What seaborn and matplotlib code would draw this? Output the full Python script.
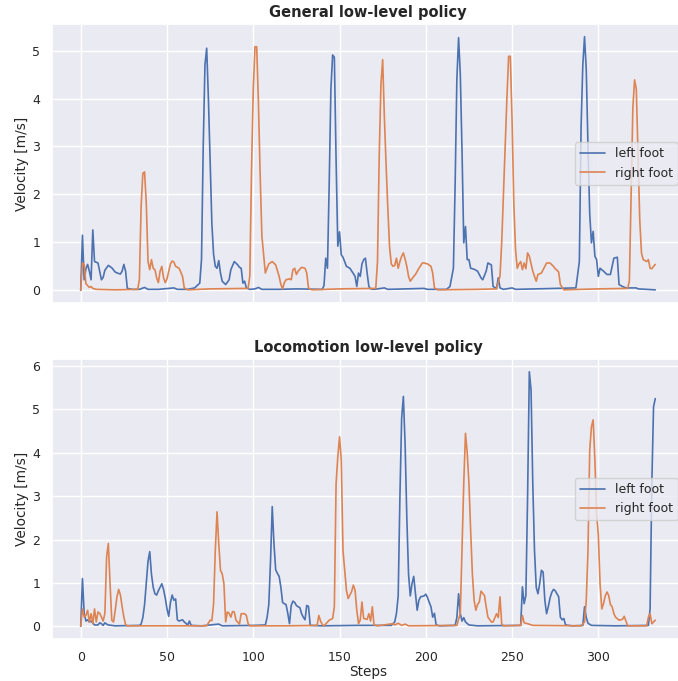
import matplotlib
matplotlib.use("Agg")
import matplotlib.pyplot as plt
import seaborn as sns
import pandas as pd

# ---------------- data (step, velocity) ----------------
general_left = [
    (0, 0.0), (1, 1.15), (2, 0.22), (3, 0.45), (4, 0.54), (5, 0.40), (6, 0.22), (7, 1.26),
    (8, 0.60), (10, 0.57), (12, 0.22), (13, 0.27), (14, 0.42), (16, 0.52), (18, 0.47),
    (20, 0.38), (22, 0.35), (23, 0.34), (24, 0.40), (25, 0.54), (26, 0.40), (27, 0.04),
    (30, 0.02), (34, 0.02), (37, 0.06), (39, 0.02), (45, 0.02), (54, 0.05), (56, 0.02),
    (62, 0.02), (66, 0.05), (69, 0.15), (70, 0.64), (71, 3.0), (72, 4.7), (73, 5.05),
    (74, 4.0), (75, 2.72), (76, 1.4), (77, 0.75), (78, 0.50), (79, 0.46), (80, 0.62),
    (81, 0.36), (82, 0.19), (84, 0.12), (86, 0.22), (87, 0.43), (89, 0.60), (91, 0.53),
    (92, 0.48), (93, 0.46), (94, 0.15), (95, 0.19), (96, 0.05), (98, 0.02), (101, 0.03),
    (103, 0.06), (105, 0.02), (115, 0.02), (125, 0.03), (140, 0.02), (141, 0.10),
    (142, 0.67), (143, 0.46), (144, 2.2), (145, 4.2), (146, 4.91), (147, 4.86), (148, 2.72),
    (149, 0.92), (150, 1.22), (151, 0.74), (152, 0.69), (154, 0.50), (156, 0.46),
    (158, 0.35), (159, 0.29), (160, 0.08), (161, 0.36), (162, 0.29), (163, 0.55),
    (164, 0.64), (165, 0.67), (166, 0.36), (167, 0.08), (168, 0.03), (170, 0.02),
    (176, 0.05), (178, 0.02), (199, 0.04), (201, 0.02), (212, 0.02), (214, 0.08),
    (216, 0.46), (217, 2.2), (218, 4.4), (219, 5.27), (220, 4.5), (221, 2.9), (222, 0.99),
    (223, 1.33), (224, 0.64), (225, 0.64), (226, 0.46), (228, 0.44), (230, 0.40),
    (232, 0.26), (233, 0.22), (235, 0.40), (236, 0.57), (238, 0.53), (239, 0.08),
    (241, 0.04), (242, 0.26), (243, 0.05), (245, 0.02), (250, 0.05), (252, 0.02),
    (287, 0.05), (289, 0.60), (290, 3.4), (291, 4.7), (292, 5.29), (293, 4.6), (294, 3.0),
    (295, 1.6), (296, 0.99), (297, 1.23), (298, 0.71), (299, 0.64), (300, 0.29),
    (301, 0.46), (303, 0.40), (305, 0.33), (307, 0.33), (309, 0.67), (311, 0.69),
    (312, 0.12), (314, 0.08), (316, 0.05), (322, 0.05), (323, 0.03), (333, 0.01),
]
general_right = [
    (0, 0.0), (1, 0.57), (2, 0.54), (3, 0.14), (4, 0.10), (5, 0.06), (6, 0.08), (7, 0.04),
    (9, 0.02), (20, 0.01), (33, 0.02), (34, 0.22), (35, 1.75), (36, 2.44), (37, 2.47),
    (38, 1.81), (39, 0.60), (40, 0.43), (41, 0.64), (42, 0.46), (43, 0.43), (44, 0.26),
    (45, 0.16), (46, 0.40), (47, 0.50), (48, 0.26), (49, 0.16), (50, 0.24), (51, 0.40),
    (52, 0.55), (53, 0.61), (54, 0.59), (55, 0.50), (57, 0.46), (58, 0.38), (59, 0.29),
    (60, 0.05), (62, 0.01), (75, 0.03), (97, 0.04), (98, 0.30), (99, 2.5), (100, 4.2),
    (101, 5.08), (102, 5.08), (103, 3.9), (104, 2.4), (105, 1.13), (106, 0.75), (107, 0.36),
    (108, 0.46), (109, 0.55), (111, 0.60), (113, 0.53), (115, 0.29), (116, 0.12),
    (117, 0.03), (118, 0.16), (119, 0.22), (121, 0.24), (122, 0.22), (123, 0.43),
    (124, 0.46), (125, 0.33), (126, 0.40), (128, 0.48), (130, 0.46), (131, 0.36),
    (132, 0.05), (134, 0.01), (150, 0.03), (171, 0.04), (172, 0.60), (173, 2.8), (174, 4.3),
    (175, 4.81), (176, 3.6), (177, 2.6), (178, 1.7), (179, 0.90), (180, 0.55), (181, 0.50),
    (182, 0.52), (183, 0.67), (184, 0.46), (185, 0.60), (186, 0.71), (187, 0.78),
    (188, 0.65), (189, 0.50), (190, 0.29), (191, 0.19), (193, 0.29), (194, 0.33),
    (196, 0.46), (198, 0.57), (199, 0.57), (201, 0.55), (203, 0.50), (204, 0.36),
    (205, 0.05), (207, 0.01), (230, 0.02), (241, 0.03), (243, 0.30), (244, 1.0), (245, 1.99),
    (246, 3.0), (247, 4.0), (248, 4.88), (249, 4.88), (250, 3.55), (251, 1.82), (252, 0.85),
    (253, 0.46), (254, 0.55), (255, 0.60), (256, 0.43), (257, 0.57), (258, 0.45),
    (259, 0.78), (260, 0.71), (261, 0.55), (262, 0.40), (263, 0.29), (264, 0.19),
    (265, 0.33), (267, 0.36), (269, 0.50), (270, 0.57), (272, 0.57), (274, 0.50),
    (275, 0.45), (276, 0.42), (277, 0.38), (278, 0.12), (280, 0.01), (300, 0.03),
    (317, 0.04), (318, 0.20), (319, 2.0), (320, 3.8), (321, 4.39), (322, 4.2), (323, 2.86),
    (324, 1.47), (325, 0.78), (326, 0.64), (327, 0.62), (328, 0.60), (329, 0.64),
    (330, 0.46), (331, 0.45), (332, 0.50), (333, 0.54),
]
loco_left = [
    (0, 0.0), (1, 1.10), (2, 0.30), (3, 0.12), (4, 0.15), (5, 0.10), (6, 0.12), (7, 0.08),
    (8, 0.03), (10, 0.03), (11, 0.08), (12, 0.06), (13, 0.02), (14, 0.08), (15, 0.05),
    (16, 0.03), (20, 0.01), (34, 0.02), (35, 0.05), (36, 0.20), (37, 0.50), (38, 1.0),
    (39, 1.5), (40, 1.72), (41, 1.2), (42, 0.90), (43, 0.75), (44, 0.72), (45, 0.82),
    (46, 0.90), (47, 0.98), (48, 0.85), (49, 0.65), (50, 0.40), (51, 0.23), (52, 0.55),
    (53, 0.72), (54, 0.60), (55, 0.63), (56, 0.15), (57, 0.12), (59, 0.15), (60, 0.10),
    (62, 0.03), (63, 0.12), (64, 0.02), (70, 0.01), (80, 0.05), (82, 0.01), (100, 0.02),
    (107, 0.03), (108, 0.20), (109, 0.50), (110, 1.5), (111, 2.76), (112, 1.9), (113, 1.3),
    (114, 1.22), (115, 1.15), (116, 0.90), (117, 0.55), (118, 0.52), (119, 0.50),
    (120, 0.30), (121, 0.06), (122, 0.48), (123, 0.58), (124, 0.55), (125, 0.48),
    (126, 0.45), (127, 0.43), (128, 0.29), (129, 0.21), (130, 0.15), (131, 0.48),
    (132, 0.46), (133, 0.02), (140, 0.01), (160, 0.02), (180, 0.02), (182, 0.10),
    (183, 0.30), (184, 0.70), (185, 3.0), (186, 4.8), (187, 5.3), (188, 4.2), (189, 2.5),
    (190, 1.2), (191, 0.70), (192, 0.98), (193, 1.15), (194, 0.75), (195, 0.37), (196, 0.60),
    (197, 0.68), (199, 0.70), (200, 0.74), (201, 0.66), (202, 0.55), (203, 0.45),
    (204, 0.21), (205, 0.30), (206, 0.03), (208, 0.01), (217, 0.02), (218, 0.20),
    (219, 0.75), (220, 0.29), (221, 0.12), (222, 0.20), (223, 0.10), (225, 0.03),
    (230, 0.01), (255, 0.02), (256, 0.91), (257, 0.52), (258, 0.71), (259, 3.0), (260, 5.87),
    (261, 5.45), (262, 3.3), (263, 1.75), (264, 0.90), (265, 0.75), (266, 0.98), (267, 1.29),
    (268, 1.25), (269, 0.60), (270, 0.29), (271, 0.45), (272, 0.65), (273, 0.78),
    (274, 0.85), (275, 0.82), (276, 0.75), (277, 0.68), (278, 0.21), (279, 0.15),
    (280, 0.18), (281, 0.03), (285, 0.01), (291, 0.02), (292, 0.45), (293, 0.20),
    (294, 0.07), (296, 0.02), (310, 0.01), (329, 0.02), (330, 0.40), (331, 3.29),
    (332, 5.06), (333, 5.25),
]
loco_right = [
    (0, 0.0), (1, 0.40), (2, 0.21), (3, 0.25), (4, 0.37), (5, 0.10), (6, 0.29), (7, 0.06),
    (8, 0.40), (9, 0.10), (10, 0.33), (11, 0.30), (12, 0.21), (13, 0.12), (14, 0.30),
    (15, 1.6), (16, 1.91), (17, 0.98), (18, 0.14), (19, 0.10), (20, 0.37), (21, 0.68),
    (22, 0.85), (23, 0.72), (24, 0.45), (25, 0.21), (26, 0.04), (27, 0.01), (50, 0.01),
    (73, 0.01), (75, 0.14), (76, 0.13), (77, 0.52), (78, 1.75), (79, 2.64), (80, 1.9),
    (81, 1.29), (82, 1.21), (83, 0.98), (84, 0.10), (85, 0.33), (86, 0.30), (87, 0.21),
    (88, 0.34), (89, 0.33), (90, 0.14), (92, 0.05), (93, 0.29), (95, 0.29), (96, 0.25),
    (97, 0.06), (98, 0.01), (120, 0.01), (137, 0.02), (138, 0.25), (139, 0.12), (140, 0.04),
    (141, 0.01), (144, 0.14), (145, 0.16), (146, 0.18), (147, 0.45), (148, 3.29),
    (149, 3.91), (150, 4.37), (151, 3.83), (152, 1.75), (154, 0.83), (155, 0.64),
    (157, 0.80), (158, 0.95), (159, 0.83), (160, 0.37), (161, 0.06), (162, 0.14),
    (163, 0.56), (164, 0.18), (166, 0.16), (167, 0.29), (168, 0.12), (169, 0.45),
    (170, 0.03), (172, 0.01), (181, 0.06), (182, 0.03), (184, 0.07), (186, 0.02),
    (188, 0.05), (190, 0.01), (218, 0.02), (220, 0.30), (221, 1.8), (222, 3.3), (223, 4.45),
    (224, 4.0), (225, 3.3), (226, 2.2), (227, 1.2), (228, 0.60), (229, 0.37), (230, 0.50),
    (231, 0.56), (232, 0.81), (234, 0.71), (235, 0.45), (236, 0.21), (238, 0.10),
    (239, 0.10), (241, 0.29), (242, 0.20), (243, 0.68), (244, 0.05), (245, 0.01),
    (255, 0.02), (256, 0.25), (257, 0.08), (259, 0.06), (262, 0.02), (290, 0.01),
    (292, 0.10), (293, 0.60), (294, 1.75), (295, 4.06), (296, 4.6), (297, 4.76), (298, 3.83),
    (299, 2.6), (300, 2.1), (301, 0.98), (302, 0.40), (303, 0.52), (304, 0.70), (305, 0.79),
    (306, 0.71), (307, 0.50), (308, 0.45), (309, 0.29), (310, 0.21), (312, 0.14),
    (314, 0.16), (315, 0.23), (316, 0.12), (317, 0.01), (328, 0.01), (329, 0.21),
    (330, 0.29), (331, 0.06), (332, 0.10), (333, 0.14),
]

titles = ["General low-level policy", "Locomotion low-level policy"]
series_labels = ["left foot", "right foot"]
y_label = "Velocity [m/s]"
x_label = "Steps"
top_yticks = [0, 1, 2, 3, 4, 5]
bottom_yticks = [0, 1, 2, 3, 4, 5, 6]

# ---------------- styling ----------------
sns.set_theme(style="darkgrid")
plt.rcParams["font.family"] = ["DejaVu Sans"]
palette = sns.color_palette("deep")

W, H = 678, 681
fig = plt.figure(figsize=(W / 100, H / 100), dpi=100)

left_px, right_px = 52, 684
ax_top = fig.add_axes([left_px / W, (H - 303) / H, (right_px - left_px) / W, (303 - 24) / H])
ax_bot = fig.add_axes([left_px / W, (H - 639) / H, (right_px - left_px) / W, (639 - 359) / H],
                      sharex=ax_top)


def to_df(pairs):
    return pd.DataFrame(pairs, columns=["step", "velocity"])


panels = [
    (ax_top, general_left, general_right, titles[0], top_yticks),
    (ax_bot, loco_left, loco_right, titles[1], bottom_yticks),
]
for ax, lft, rgt, title, yt in panels:
    sns.lineplot(data=to_df(lft), x="step", y="velocity", ax=ax, color=palette[0],
                 label=series_labels[0], linewidth=1.2)
    sns.lineplot(data=to_df(rgt), x="step", y="velocity", ax=ax, color=palette[1],
                 label=series_labels[1], linewidth=1.2)
    ax.set_title(title, fontsize=10.5, fontweight="bold", pad=5)
    ax.set_ylabel(y_label, fontsize=9.8, labelpad=2)
    ax.set_yticks(yt)
    ax.tick_params(axis="both", labelsize=9, pad=2.5)
    ax.legend(loc="center right", fontsize=9)

ax_top.set_xlabel("")
ax_top.tick_params(labelbottom=False)
ax_bot.set_xlabel(x_label, fontsize=9.8, labelpad=1)
ax_bot.set_xticks([0, 50, 100, 150, 200, 250, 300])

fig.savefig("out.png", dpi=100)
